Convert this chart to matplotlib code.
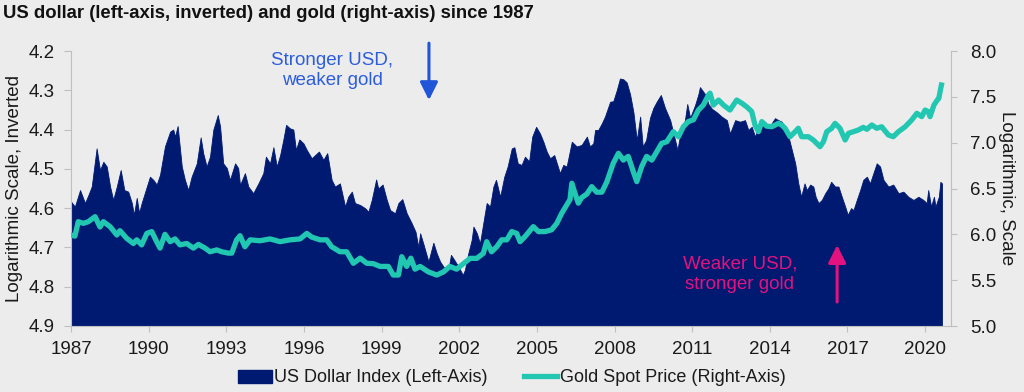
import matplotlib
matplotlib.use("Agg")
import matplotlib.pyplot as plt
from matplotlib.patches import Patch
from matplotlib.lines import Line2D

plt.rcParams['font.family'] = ['Liberation Sans', 'DejaVu Sans']

title = "US dollar (left-axis, inverted) and gold (right-axis) since 1987"
left_label = "Logarithmic Scale, Inverted"
right_label = "Logarithmic, Scale"
usd_name = "US Dollar Index (Left-Axis)"
gold_name = "Gold Spot Price (Right-Axis)"
note_up = "Stronger USD,\nweaker gold"
note_down = "Weaker USD,\nstronger gold"

x_ticks = [1987, 1990, 1993, 1996, 1999, 2002, 2005, 2008, 2011, 2014, 2017, 2020]
left_ticks = [4.2, 4.3, 4.4, 4.5, 4.6, 4.7, 4.8, 4.9]
right_ticks = [5.0, 5.5, 6.0, 6.5, 7.0, 7.5, 8.0]

usd_year = [1987.00, 1987.15, 1987.35, 1987.54, 1987.67, 1987.80, 1987.99, 1988.12, 1988.25, 1988.38,
            1988.51, 1988.63, 1988.77, 1988.92, 1989.06, 1989.21, 1989.35, 1989.43, 1989.54, 1989.63,
            1989.73, 1989.93, 1990.05, 1990.18, 1990.31, 1990.44, 1990.63, 1990.83, 1990.95, 1991.02,
            1991.12, 1991.28, 1991.40, 1991.53, 1991.66, 1991.86, 1992.01, 1992.11, 1992.24, 1992.37,
            1992.50, 1992.67, 1992.76, 1992.88, 1993.02, 1993.14, 1993.34, 1993.46, 1993.53, 1993.72,
            1993.85, 1994.04, 1994.24, 1994.43, 1994.53, 1994.69, 1994.82, 1994.95, 1995.08, 1995.20,
            1995.31, 1995.46, 1995.59, 1995.69, 1995.82, 1995.98, 1996.11, 1996.30, 1996.43, 1996.58,
            1996.75, 1996.90, 1997.07, 1997.20, 1997.39, 1997.59, 1997.71, 1997.85, 1997.97, 1998.17,
            1998.36, 1998.49, 1998.62, 1998.79, 1998.87, 1999.04, 1999.20, 1999.33, 1999.52, 1999.65,
            1999.80, 1999.97, 2000.16, 2000.31, 2000.42, 2000.49, 2000.61, 2000.81, 2001.00, 2001.13,
            2001.26, 2001.39, 2001.58, 2001.68, 2001.81, 2001.97, 2002.14, 2002.22, 2002.35, 2002.48,
            2002.55, 2002.68, 2002.80, 2002.97, 2003.06, 2003.19, 2003.32, 2003.42, 2003.58, 2003.74,
            2003.87, 2004.03, 2004.13, 2004.26, 2004.41, 2004.54, 2004.70, 2004.82, 2004.97, 2005.12,
            2005.25, 2005.38, 2005.51, 2005.67, 2005.81, 2005.89, 2006.02, 2006.15, 2006.35, 2006.54,
            2006.73, 2006.93, 2007.05, 2007.18, 2007.25, 2007.37, 2007.51, 2007.63, 2007.83, 2007.95,
            2008.09, 2008.21, 2008.34, 2008.47, 2008.60, 2008.73, 2008.86, 2008.99, 2009.09, 2009.22,
            2009.37, 2009.50, 2009.63, 2009.79, 2009.95, 2010.15, 2010.34, 2010.43, 2010.53, 2010.72,
            2010.81, 2010.92, 2011.11, 2011.24, 2011.30, 2011.50, 2011.63, 2011.76, 2011.95, 2012.14,
            2012.34, 2012.46, 2012.66, 2012.85, 2013.04, 2013.17, 2013.30, 2013.43, 2013.62, 2013.82,
            2014.01, 2014.20, 2014.33, 2014.46, 2014.59, 2014.72, 2014.85, 2014.98, 2015.10, 2015.21,
            2015.34, 2015.43, 2015.56, 2015.68, 2015.77, 2015.88, 2016.01, 2016.14, 2016.26, 2016.37,
            2016.52, 2016.65, 2016.78, 2016.91, 2017.01, 2017.14, 2017.23, 2017.36, 2017.49, 2017.61,
            2017.75, 2017.87, 2018.00, 2018.13, 2018.26, 2018.39, 2018.58, 2018.77, 2018.97, 2019.16,
            2019.35, 2019.55, 2019.74, 2019.93, 2020.06, 2020.12, 2020.23, 2020.34, 2020.40, 2020.53,
            2020.59, 2020.65]
usd_log = [4.583, 4.596, 4.554, 4.587, 4.567, 4.545, 4.448, 4.503, 4.482, 4.494,
           4.545, 4.579, 4.545, 4.503, 4.554, 4.558, 4.587, 4.617, 4.574, 4.612,
           4.587, 4.545, 4.520, 4.528, 4.540, 4.515, 4.443, 4.405, 4.400, 4.418,
           4.391, 4.494, 4.528, 4.554, 4.520, 4.486, 4.420, 4.461, 4.494, 4.469,
           4.400, 4.363, 4.392, 4.486, 4.498, 4.528, 4.486, 4.498, 4.541, 4.511,
           4.545, 4.562, 4.537, 4.511, 4.469, 4.486, 4.445, 4.494, 4.465, 4.427,
           4.388, 4.397, 4.400, 4.452, 4.425, 4.435, 4.452, 4.473, 4.465, 4.456,
           4.477, 4.460, 4.528, 4.545, 4.537, 4.596, 4.571, 4.558, 4.587, 4.592,
           4.600, 4.609, 4.579, 4.527, 4.550, 4.540, 4.579, 4.605, 4.613, 4.587,
           4.577, 4.613, 4.638, 4.660, 4.699, 4.664, 4.690, 4.736, 4.688, 4.715,
           4.736, 4.749, 4.757, 4.719, 4.732, 4.749, 4.770, 4.757, 4.715, 4.681,
           4.647, 4.664, 4.690, 4.622, 4.587, 4.596, 4.545, 4.528, 4.571, 4.520,
           4.494, 4.448, 4.445, 4.486, 4.490, 4.469, 4.481, 4.418, 4.393, 4.410,
           4.431, 4.456, 4.473, 4.465, 4.494, 4.511, 4.490, 4.494, 4.431, 4.443,
           4.439, 4.418, 4.443, 4.435, 4.401, 4.401, 4.384, 4.367, 4.329, 4.328,
           4.299, 4.270, 4.272, 4.280, 4.310, 4.356, 4.427, 4.367, 4.443, 4.427,
           4.370, 4.345, 4.329, 4.312, 4.345, 4.376, 4.427, 4.452, 4.415, 4.376,
           4.335, 4.370, 4.338, 4.310, 4.292, 4.310, 4.335, 4.347, 4.356, 4.367,
           4.376, 4.410, 4.376, 4.380, 4.376, 4.401, 4.393, 4.418, 4.380, 4.385,
           4.390, 4.371, 4.376, 4.380, 4.397, 4.418, 4.452, 4.486, 4.537, 4.571,
           4.537, 4.554, 4.540, 4.545, 4.571, 4.587, 4.579, 4.562, 4.550, 4.533,
           4.545, 4.545, 4.571, 4.596, 4.617, 4.600, 4.605, 4.579, 4.554, 4.528,
           4.520, 4.537, 4.511, 4.486, 4.494, 4.528, 4.545, 4.540, 4.562, 4.558,
           4.571, 4.579, 4.571, 4.579, 4.587, 4.554, 4.596, 4.571, 4.596, 4.571,
           4.533, 4.537]

gold_year = [1987.00, 1987.15, 1987.28, 1987.48, 1987.67, 1987.93, 1988.12, 1988.25, 1988.51, 1988.77,
             1988.89, 1989.15, 1989.41, 1989.54, 1989.73, 1989.93, 1990.12, 1990.31, 1990.44, 1990.63,
             1990.83, 1991.02, 1991.21, 1991.47, 1991.73, 1991.92, 1992.18, 1992.37, 1992.63, 1992.82,
             1993.08, 1993.21, 1993.40, 1993.53, 1993.72, 1993.92, 1994.30, 1994.69, 1995.08, 1995.46,
             1995.85, 1996.11, 1996.30, 1996.62, 1996.88, 1997.07, 1997.39, 1997.65, 1997.91, 1998.17,
             1998.43, 1998.68, 1998.94, 1999.26, 1999.45, 1999.65, 1999.78, 1999.97, 2000.13, 2000.29,
             2000.49, 2000.81, 2001.13, 2001.39, 2001.64, 2001.90, 2002.16, 2002.42, 2002.68, 2002.93,
             2003.06, 2003.25, 2003.45, 2003.64, 2003.84, 2004.03, 2004.22, 2004.35, 2004.54, 2004.86,
             2005.06, 2005.32, 2005.57, 2005.77, 2005.96, 2006.09, 2006.28, 2006.35, 2006.47, 2006.60,
             2006.73, 2006.93, 2007.12, 2007.31, 2007.51, 2007.70, 2007.95, 2008.15, 2008.34, 2008.53,
             2008.73, 2008.86, 2009.05, 2009.24, 2009.44, 2009.63, 2009.82, 2010.02, 2010.27, 2010.47,
             2010.66, 2010.85, 2011.05, 2011.24, 2011.43, 2011.63, 2011.69, 2011.82, 2012.02, 2012.21,
             2012.46, 2012.72, 2012.92, 2013.11, 2013.30, 2013.43, 2013.56, 2013.69, 2013.88, 2014.08,
             2014.33, 2014.46, 2014.59, 2014.78, 2014.98, 2015.10, 2015.23, 2015.49, 2015.68, 2015.94,
             2016.07, 2016.20, 2016.39, 2016.52, 2016.71, 2016.91, 2017.04, 2017.23, 2017.42, 2017.61,
             2017.75, 2017.94, 2018.13, 2018.32, 2018.58, 2018.77, 2018.97, 2019.23, 2019.48, 2019.68,
             2019.87, 2020.00, 2020.12, 2020.19, 2020.34, 2020.47, 2020.53, 2020.59, 2020.63]
gold_log = [5.993, 5.980, 6.138, 6.120, 6.138, 6.193, 6.080, 6.138, 6.084, 5.993,
            6.040, 5.957, 5.900, 5.940, 5.885, 6.010, 6.030, 5.920, 5.850, 6.000,
            5.920, 5.950, 5.885, 5.900, 5.850, 5.890, 5.850, 5.810, 5.830, 5.810,
            5.795, 5.795, 5.940, 5.985, 5.865, 5.940, 5.930, 5.950, 5.920, 5.940,
            5.950, 6.010, 5.970, 5.940, 5.940, 5.865, 5.810, 5.810, 5.684, 5.740,
            5.684, 5.680, 5.650, 5.650, 5.556, 5.556, 5.756, 5.650, 5.740, 5.620,
            5.650, 5.590, 5.556, 5.590, 5.650, 5.620, 5.680, 5.738, 5.738, 5.793,
            5.920, 5.810, 5.865, 5.940, 5.940, 6.030, 6.010, 5.920, 5.975, 6.084,
            6.030, 6.030, 6.050, 6.120, 6.230, 6.290, 6.380, 6.557, 6.450, 6.340,
            6.400, 6.440, 6.520, 6.460, 6.460, 6.570, 6.775, 6.884, 6.810, 6.850,
            6.680, 6.575, 6.740, 6.850, 6.810, 6.900, 6.993, 7.010, 7.120, 7.065,
            7.175, 7.230, 7.250, 7.356, 7.410, 7.520, 7.540, 7.410, 7.465, 7.410,
            7.356, 7.465, 7.430, 7.390, 7.340, 7.190, 7.120, 7.230, 7.180, 7.174,
            7.211, 7.193, 7.157, 7.065, 7.120, 7.157, 7.065, 7.065, 7.029, 6.956,
            7.010, 7.120, 7.157, 7.211, 7.157, 7.029, 7.102, 7.120, 7.138, 7.167,
            7.146, 7.193, 7.157, 7.174, 7.084, 7.065, 7.120, 7.174, 7.247, 7.320,
            7.284, 7.356, 7.338, 7.284, 7.410, 7.465, 7.484, 7.575, 7.629]

BG = '#ececec'
NAVY = '#001a72'
TEAL = '#22c7b2'
GRID = '#bfbfbf'
BLUE = '#2c5ddb'
MAGENTA = '#e2127f'
TXT = '#1a1a1a'

fig = plt.figure(figsize=(10.24, 3.92), dpi=100, facecolor=BG)
ax = fig.add_axes([71/1024, 1-326/392, 880/1024, 275/392])
ax.set_facecolor(BG)
ax2 = ax.twinx()

ax.fill_between(usd_year, usd_log, 4.9, color=NAVY, lw=0.6, edgecolor=NAVY)
ax2.plot(gold_year, gold_log, color=TEAL, lw=3.8, solid_joinstyle='round')

ax.set_xlim(1987, 2021)
ax.set_ylim(4.9, 4.2)
ax2.set_ylim(5.0, 8.0)

ax.set_xticks(x_ticks)
ax.set_xticklabels([str(t) for t in x_ticks])
ax.set_yticks(left_ticks)
ax.set_yticklabels([f"{t:.1f}" for t in left_ticks])
ax2.set_yticks(right_ticks)
ax2.set_yticklabels([f"{t:.1f}" for t in right_ticks])

for a in (ax, ax2):
    for s in a.spines.values():
        s.set_color(GRID)
    a.spines['top'].set_visible(False)
ax.spines['right'].set_visible(False)
ax2.spines['left'].set_visible(False)
ax2.spines['bottom'].set_visible(False)

ax.tick_params(axis='y', length=5, color=GRID, pad=7, labelsize=13.5, labelcolor=TXT)
ax.tick_params(axis='x', length=4, color=GRID, pad=7, labelsize=13.5, labelcolor=TXT)
ax2.tick_params(axis='y', length=4, color=GRID, pad=10, labelsize=13.5, labelcolor=TXT)

ax.set_ylabel(left_label, fontsize=13.5, color=TXT, labelpad=4)
ax2.set_ylabel(right_label, fontsize=13.5, color=TXT, rotation=270, labelpad=13)

fig.text(3/1024, 1-14/392, title, fontsize=13.3, fontweight='bold', ha='left', va='center', color='#111111')

ax.text(0.2966, 0.929, note_up, transform=ax.transAxes, ha='center', va='center',
        fontsize=13.5, color=BLUE, linespacing=1.25)
ax.text(0.760, 0.187, note_down, transform=ax.transAxes, ha='center', va='center',
        fontsize=13.5, color=MAGENTA, linespacing=1.25)

ax.annotate('', xy=(2000.83, 4.325), xytext=(2000.83, 4.18), xycoords='data', textcoords='data',
            arrowprops=dict(arrowstyle='-|>,head_width=0.45,head_length=0.9', color='#1f55d6',
                            lw=2.2, shrinkA=0, shrinkB=0, mutation_scale=12), annotation_clip=False)
ax.annotate('', xy=(2016.6, 4.694), xytext=(2016.6, 4.839), xycoords='data', textcoords='data',
            arrowprops=dict(arrowstyle='-|>,head_width=0.45,head_length=0.9', color=MAGENTA,
                            lw=2.2, shrinkA=0, shrinkB=0, mutation_scale=12), annotation_clip=False)

handles = [Patch(facecolor=NAVY, edgecolor=NAVY),
           Line2D([0], [0], color=TEAL, lw=3.8)]
fig.legend(handles, [usd_name, gold_name], loc='center', bbox_to_anchor=(0.5, 1-378/392),
           ncol=2, frameon=False, fontsize=13, handlelength=1.85, handletextpad=0.15,
           columnspacing=2.0, labelcolor=TXT)

fig.savefig('out.png', dpi=100, facecolor=BG)
